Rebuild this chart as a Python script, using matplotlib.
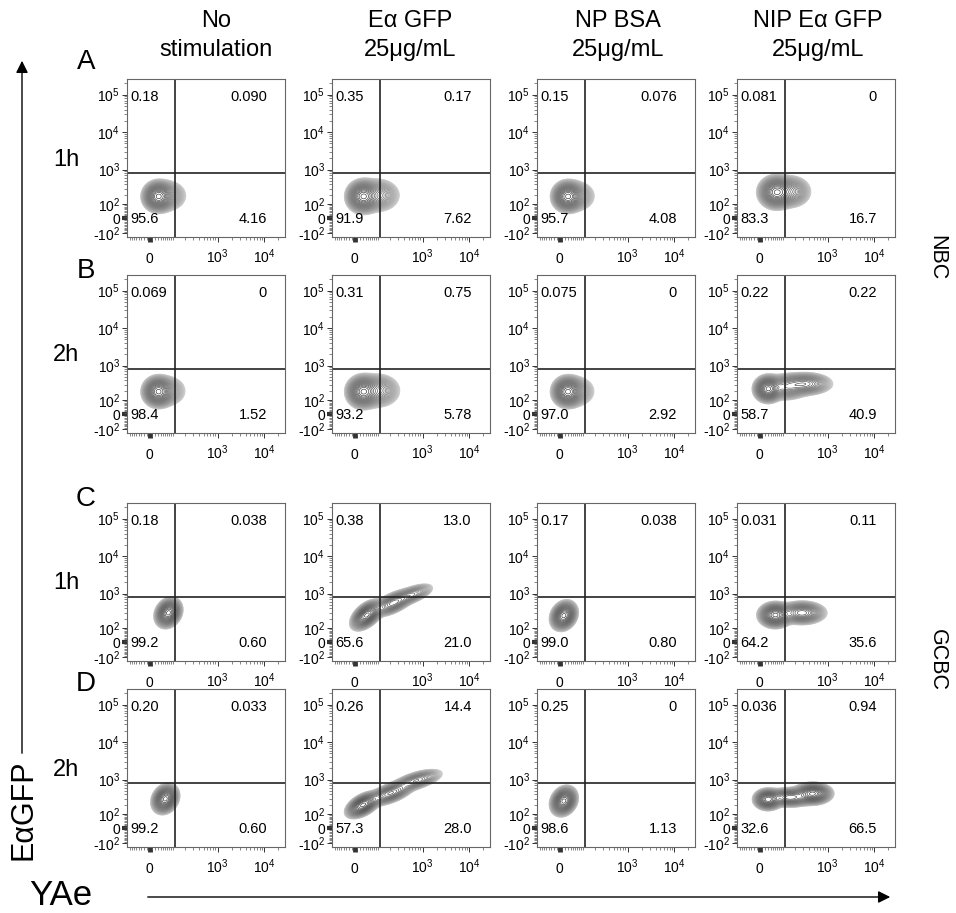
import numpy as np
import matplotlib
matplotlib.use("Agg")
import matplotlib.pyplot as plt
from matplotlib.patches import FancyArrowPatch
from matplotlib.ticker import NullFormatter

plt.rcParams['font.family'] = ['Liberation Sans', 'DejaVu Sans']
plt.rcParams['mathtext.fontset'] = 'custom'
plt.rcParams['mathtext.rm'] = 'Liberation Sans'
plt.rcParams['mathtext.it'] = 'Liberation Sans:italic'
plt.rcParams['mathtext.bf'] = 'Liberation Sans:bold'
plt.rcParams['mathtext.default'] = 'regular'

# ---------------- labels ----------------
conditions = [("No", "stimulation"), ("Eα GFP", "25μg/mL"),
              ("NP BSA", "25μg/mL"), ("NIP Eα GFP", "25μg/mL")]
panel_rows = ["A", "B", "C", "D"]
timepoints = ["1h", "2h", "1h", "2h"]
cell_types = ["NBC", "GCBC"]
x_title = "YAe"
y_title = "EαGFP"

# ---------------- axis settings (biexponential-like display) ----------------
yae_linear_width = 70
gfp_linear_width = 100
yae_limits = (-95, 28000)
gfp_limits = (-140, 262144)
yae_ticks = [0, 1e3, 1e4]
yae_ticklabels = ["0", "10$^3$", "10$^4$"]
gfp_ticks = [-100, 0, 100, 1e3, 1e4, 1e5]
gfp_ticklabels = ["-10$^2$", "0", "10$^2$", "10$^3$", "10$^4$", "10$^5$"]

# quadrant gates
gate_yae = 110
gate_gfp = 800

# ---------------- quadrant frequencies (%) ----------------
q_upper_left = [["0.18", "0.35", "0.15", "0.081"],
                ["0.069", "0.31", "0.075", "0.22"],
                ["0.18", "0.38", "0.17", "0.031"],
                ["0.20", "0.26", "0.25", "0.036"]]
q_upper_right = [["0.090", "0.17", "0.076", "0"],
                 ["0", "0.75", "0", "0.22"],
                 ["0.038", "13.0", "0.038", "0.11"],
                 ["0.033", "14.4", "0", "0.94"]]
q_lower_left = [["95.6", "91.9", "95.7", "83.3"],
                ["98.4", "93.2", "97.0", "58.7"],
                ["99.2", "65.6", "99.0", "64.2"],
                ["99.2", "57.3", "98.6", "32.6"]]
q_lower_right = [["4.16", "7.62", "4.08", "16.7"],
                 ["1.52", "5.78", "2.92", "40.9"],
                 ["0.60", "21.0", "0.80", "35.6"],
                 ["0.60", "28.0", "1.13", "66.5"]]

# ---------------- cell populations ----------------
# each panel: list of clusters (YAe centre, EαGFP centre, spread YAe [decades],
# spread EαGFP [decades], correlation, relative weight)
pop_yae = [[[30, 70], [30, 100], [28, 65], [65, 160]],
           [[30, 70], [30, 100], [28, 65], [30, 120, 330]],
           [[75], [45, 230, 620], [15], [60, 280]],
           [[60], [30, 200, 750], [15], [30, 150, 480]]]
pop_gfp = [[[180, 190], [180, 195], [180, 185], [240, 250]],
           [[190, 200], [190, 205], [190, 195], [230, 260, 320]],
           [[300], [260, 560, 950], [250], [260, 300]],
           [[300], [200, 430, 950], [260], [290, 330, 420]]]
pop_sd_yae = [[[0.13, 0.17], [0.14, 0.19], [0.13, 0.17], [0.15, 0.17]],
              [[0.13, 0.17], [0.14, 0.19], [0.13, 0.17], [0.12, 0.2, 0.23]],
              [[0.11], [0.13, 0.18, 0.18], [0.11], [0.14, 0.2]],
              [[0.11], [0.14, 0.2, 0.22], [0.11], [0.12, 0.2, 0.16]]]
pop_sd_gfp = [[[0.16, 0.17], [0.17, 0.18], [0.16, 0.17], [0.17, 0.17]],
              [[0.16, 0.17], [0.17, 0.18], [0.16, 0.17], [0.14, 0.14, 0.12]],
              [[0.15], [0.15, 0.14, 0.12], [0.15], [0.13, 0.12]],
              [[0.15], [0.13, 0.13, 0.12], [0.15], [0.11, 0.10, 0.11]]]
pop_corr = [[[0, 0], [0, 0], [0, 0], [0, 0]],
            [[0, 0], [0, 0], [0, 0], [0, 0, 0]],
            [[0.2], [0.5, 0.6, 0.6], [0.2], [0, 0]],
            [[0.2], [0.5, 0.6, 0.6], [0.2], [0, 0, 0]]]
pop_weight = [[[1.0, 0.25], [1.0, 0.30], [1.0, 0.22], [1.0, 0.35]],
              [[1.0, 0.20], [1.0, 0.35], [1.0, 0.20], [1.0, 0.35, 0.45]],
              [[1.0], [1.0, 0.5, 0.25], [1.0], [1.0, 0.6]],
              [[1.0], [1.0, 0.55, 0.35], [1.0], [0.9, 0.6, 1.0]]]

# ---------------- layout (pixels) ----------------
W, H = 956, 913
col_left = [127, 332, 537, 737]
row_top = [79, 275, 503, 689]
box = 158

LN10 = np.log(10.0)


def to_dec(v, a):
    return np.arcsinh(np.asarray(v, dtype=float) / a) / LN10


def from_dec(d, a):
    return a * np.sinh(d * LN10)


gu = np.linspace(to_dec(yae_limits[0], yae_linear_width),
                 to_dec(yae_limits[1], yae_linear_width), 400)
gv = np.linspace(to_dec(gfp_limits[0], gfp_linear_width),
                 to_dec(gfp_limits[1], gfp_linear_width), 400)
GU, GV = np.meshgrid(gu, gv)
GX = from_dec(GU, yae_linear_width)
GY = from_dec(GV, gfp_linear_width)


def density(r, c):
    Z = np.zeros_like(GU)
    for cx, cy, sx, sy, rho, w in zip(pop_yae[r][c], pop_gfp[r][c],
                                      pop_sd_yae[r][c], pop_sd_gfp[r][c],
                                      pop_corr[r][c], pop_weight[r][c]):
        dx = (GU - to_dec(cx, yae_linear_width)) / sx
        dy = (GV - to_dec(cy, gfp_linear_width)) / sy
        q = (dx ** 2 - 2 * rho * dx * dy + dy ** 2) / (1 - rho ** 2)
        Z += w * np.exp(-0.5 * q)
    return Z


fig = plt.figure(figsize=(W / 100, H / 100), dpi=100)

n_levels = 30
level_frac = np.geomspace(0.015, 0.93, n_levels)
level_cols = [str(g) for g in np.linspace(0.78, 0.18, n_levels)]

for r in range(4):
    for c in range(4):
        l, t = col_left[c], row_top[r]
        ax = fig.add_axes([l / W, 1 - (t + box) / H, box / W, box / H])
        ax.set_xscale('asinh', linear_width=yae_linear_width)
        ax.set_yscale('asinh', linear_width=gfp_linear_width)

        Z = density(r, c)
        ax.contour(GX, GY, Z, levels=Z.max() * level_frac,
                   colors=level_cols, linewidths=0.45)

        ax.axvline(gate_yae, color='#222222', lw=1.2)
        ax.axhline(gate_gfp, color='#222222', lw=1.2)

        ax.set_xlim(*yae_limits)
        ax.set_ylim(*gfp_limits)

        ax.set_xticks(yae_ticks)
        ax.set_xticklabels(yae_ticklabels, fontsize=10, va='baseline')
        ax.set_yticks(gfp_ticks)
        ax.set_yticklabels(gfp_ticklabels, fontsize=10)
        xminor = [k * 10 ** n for n in range(1, 4) for k in range(1, 10)] + [2e4]
        xminor += [-k * 10 for k in range(1, 9)]
        yminor = [k * 10 ** n for n in range(1, 5) for k in range(1, 10)] + [2e5]
        yminor += [-k * 10 for k in range(1, 10)]
        ax.set_xticks([v for v in xminor if v not in yae_ticks], minor=True)
        ax.set_yticks([v for v in yminor if v not in gfp_ticks], minor=True)
        ax.xaxis.set_minor_formatter(NullFormatter())
        ax.yaxis.set_minor_formatter(NullFormatter())

        ax.tick_params(axis='x', which='major', direction='out', length=3.5,
                       width=0.7, color='#333333', pad=15)
        ax.tick_params(axis='y', which='major', direction='out', length=3.5,
                       width=0.7, color='#333333', pad=1.5)
        ax.tick_params(which='minor', direction='out', length=2, width=0.5,
                       color='#555555')
        ax.tick_params(top=False, right=False)
        ax.xaxis.get_major_ticks()[0].tick1line.set_markeredgewidth(3.5)
        ax.yaxis.get_major_ticks()[1].tick1line.set_markeredgewidth(3.0)

        for s in ax.spines.values():
            s.set_color('#666666')
            s.set_linewidth(0.8)

        kw = dict(transform=ax.transAxes, fontsize=10.5, va='center')
        ax.text(0.02, 0.885, q_upper_left[r][c], ha='left', **kw)
        ax.text(0.885, 0.885, q_upper_right[r][c], ha='right', **kw)
        ax.text(0.02, 0.115, q_lower_left[r][c], ha='left', **kw)
        ax.text(0.885, 0.115, q_lower_right[r][c], ha='right', **kw)


def px(x, y):
    return x / W, 1 - y / H


# column headers
header_x = [216, 410, 618, 818]
for (top, bottom), hx in zip(conditions, header_x):
    fig.text(*px(hx, 21), top, ha='center', va='center', fontsize=17)
    fig.text(*px(hx, 50), bottom, ha='center', va='center', fontsize=17)

# row letters and time points
letter_y = [62, 271, 499, 684]
time_y = [160, 355, 583, 770]
for lab, ly in zip(panel_rows, letter_y):
    fig.text(*px(86, ly), lab, ha='center', va='center', fontsize=20)
for lab, ty in zip(timepoints, time_y):
    fig.text(*px(66, ty), lab, ha='center', va='center', fontsize=17)

# cell type labels
for lab, cy in zip(cell_types, [258, 660]):
    fig.text(*px(937, cy), lab, ha='center', va='center', fontsize=15.5,
             rotation=270)

# axis titles with arrows
fig.text(*px(23, 810), y_title, ha='center', va='center', fontsize=22,
         rotation=90)
fig.text(*px(61, 895), x_title, ha='center', va='center', fontsize=25)
fig.patches.append(FancyArrowPatch(
    px(22, 756), px(22, 58), transform=fig.transFigure, arrowstyle='-|>',
    mutation_scale=18, color='black', lw=1.0))
fig.patches.append(FancyArrowPatch(
    px(145, 897), px(893, 897), transform=fig.transFigure, arrowstyle='-|>',
    mutation_scale=18, color='black', lw=1.0))

fig.savefig("out.png", dpi=100, facecolor='white')
